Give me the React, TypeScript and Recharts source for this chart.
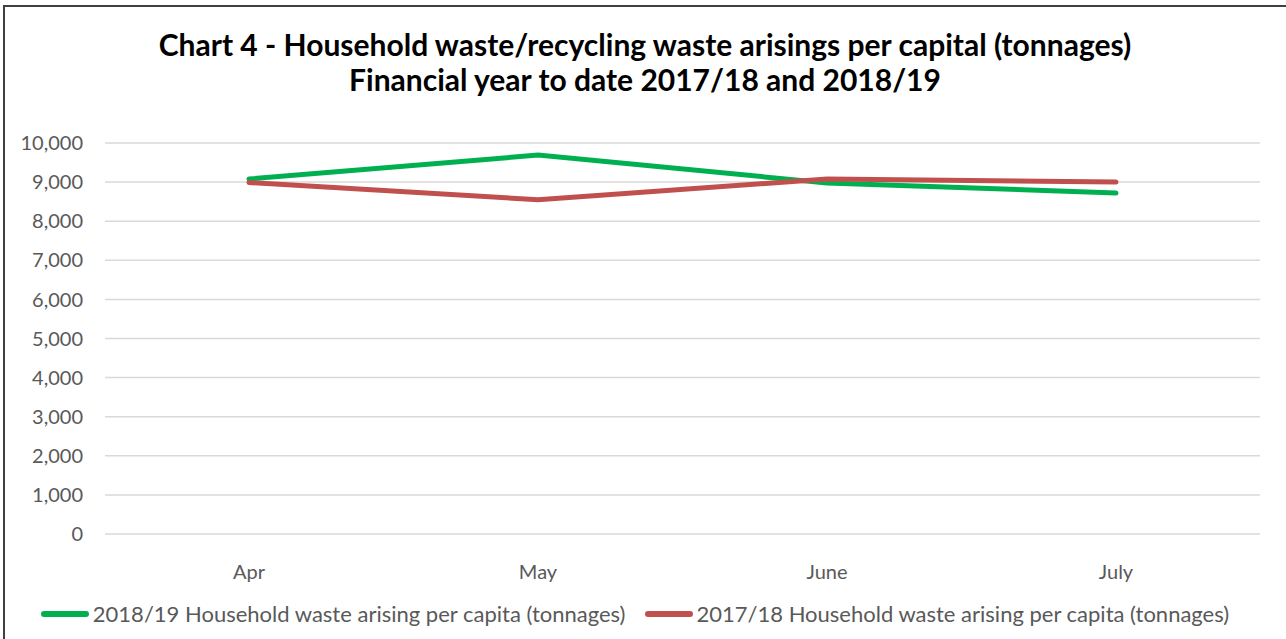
import React from 'react';
import { CartesianGrid, Legend, Line, LineChart, XAxis, YAxis } from 'recharts';

const months = ['Apr', 'May', 'June', 'July'];
const arisings1819 = [9080, 9690, 8980, 8720];
const arisings1718 = [8990, 8550, 9080, 9000];
const yTicks = [0, 1000, 2000, 3000, 4000, 5000, 6000, 7000, 8000, 9000, 10000];

const SERIES = [
  { key: 'y1819', name: '2018/19 Household waste arising per capita (tonnages)', color: '#00b050' },
  { key: 'y1718', name: '2017/18 Household waste arising per capita (tonnages)', color: '#c0504d' },
];

const FONT = 'Lato, "Open Sans", sans-serif';

const data = months.map((m, i) => ({ month: m, y1819: arisings1819[i], y1718: arisings1718[i] }));

const LegendContent = () => (
  <div style={{ height: 45, display: 'flex', alignItems: 'flex-end', justifyContent: 'center', gap: 19, fontFamily: FONT, fontSize: 22, color: '#595959' }}>
    {SERIES.map((s) => (
      <div key={s.key} style={{ display: 'flex', alignItems: 'center' }}>
        <span style={{ display: 'inline-block', width: 48, height: 6, borderRadius: 3, background: s.color, marginRight: 4 }} />
        <span>{s.name}</span>
      </div>
    ))}
  </div>
);

export default function App() {
  return (
    <div style={{ position: 'absolute', left: 0, top: 0, width: 1286, height: 639, background: '#fff', overflow: 'hidden' }}>
      <div style={{ position: 'absolute', left: 3, top: 5, width: 1290, height: 650, border: '2px solid #404040', boxSizing: 'border-box' }} />
      <div style={{ position: 'absolute', left: 0, top: 27, width: 1290, textAlign: 'center', fontFamily: FONT, fontWeight: 'bold', fontSize: 30, lineHeight: '35px', color: '#000' }}>
        <div>Chart 4 - Household waste/recycling waste arisings per capital (tonnages)</div>
        <div>Financial year to date 2017/18 and 2018/19</div>
      </div>
      <div style={{ position: 'absolute', left: 0, top: 0 }}>
        <LineChart width={1286} height={639} data={data} margin={{ top: 143, right: 26, bottom: 12, left: 10 }}>
          <CartesianGrid vertical={false} stroke="#d9d9d9" strokeWidth={1.5} />
          <XAxis dataKey="month" axisLine={false} tickLine={false} tickSize={0} tickMargin={31} height={48}
            padding={{ left: 144, right: 144 }}
            tick={{ fill: '#595959', fontSize: 20, fontFamily: FONT }} />
          <YAxis domain={[0, 10000]} ticks={yTicks} axisLine={false} tickLine={false} tickSize={0} tickMargin={22} width={95}
            tickFormatter={(v: number) => v.toLocaleString('en-GB')}
            tick={{ fill: '#595959', fontSize: 20, fontFamily: FONT }} />
          <Legend verticalAlign="bottom" height={45} content={<LegendContent />} />
          {SERIES.map((s) => (
            <Line key={s.key} type="linear" dataKey={s.key} name={s.name} stroke={s.color} strokeWidth={5}
              strokeLinecap="round" dot={false} activeDot={false} isAnimationActive={false} />
          ))}
        </LineChart>
      </div>
    </div>
  );
}
